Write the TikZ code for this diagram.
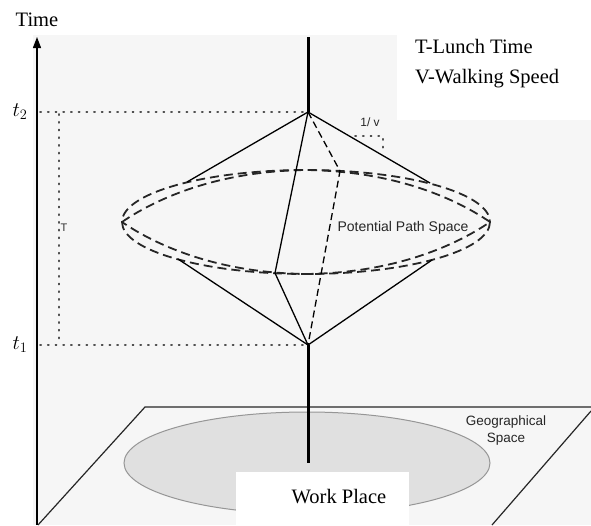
\documentclass[tikz,border=0pt]{standalone}
\usepackage{fontspec}
\setmainfont{Liberation Serif}
\setsansfont{Liberation Sans}
\usetikzlibrary{arrows.meta}
\definecolor{bggray}{RGB}{246,246,246}
\definecolor{geofill}{RGB}{224,224,224}
\definecolor{geoline}{RGB}{150,150,150}
\definecolor{dotcol}{RGB}{80,80,80}
\tikzset{
  serlabel/.style={font=\fontsize{20.5}{24}\selectfont, inner sep=0pt},
  sanslabel/.style={font=\sffamily\fontsize{14}{17}\selectfont, inner sep=0pt, text=black!85},
  coneline/.style={line width=1.3pt, black},
  conedash/.style={line width=1.3pt, black, dash pattern=on 7pt off 4pt},
  elldash/.style={line width=1.8pt, black!85, dash pattern=on 9pt off 5pt},
  dotline/.style={line width=1.6pt, dotcol, dash pattern=on 1.2pt off 6.5pt, line cap=round},
  polestyle/.style={line width=3pt, black},
}
\begin{document}
\begin{tikzpicture}[x=1pt,y=-1pt]
\useasboundingbox (0,0) rectangle (591,525);
% backgrounds
\fill[bggray] (33,35) rectangle (591,525);
\fill[white] (397,0) rectangle (591,120);
% plane
\draw[line width=1.2pt, black!85] (38,525) -- (145,407) -- (591,407);
\draw[line width=1.2pt, black!85] (591,411) -- (492,525);
% geographical ellipse
\draw[fill=geofill, draw=geoline, line width=1pt] (307,463) ellipse [x radius=183, y radius=51];
% work place box
\node[fill=white, minimum width=173pt, minimum height=53pt, inner sep=0pt, anchor=north west] (wpbox) at (236,472) {};
\node[serlabel, anchor=base] (wp) at (339,503) {Work Place};
% time axis
\draw[line width=1.2pt, -{Triangle[length=11pt,width=8pt]}] (37,525) -- (37,37) coordinate (axtop);
\node[serlabel] (time) at (37,20) {Time};
% key points
\coordinate (top) at (308,37);
\coordinate (A2) at (308,112);
\coordinate (A1) at (308,345);
\coordinate (base) at (308,463);
\coordinate (UL) at (187,182);
\coordinate (UR) at (430,183);
\coordinate (LL) at (178,259);
\coordinate (LR) at (432,260);
\coordinate (M) at (275,273);
\coordinate (D) at (340,171);
% dotted guides
\draw[dotline] (40,112) -- (A2);
\draw[dotline] (40,345) -- (A1);
\draw[dotline] (59,114) -- (59,343);
\draw[dotline] (355,136) -- (383,136) -- (383,152);
% labels t
\node[font=\fontsize{20}{24}\selectfont, inner sep=0pt] (t2) at (20,112) {$t_2$};
\node[font=\fontsize{20}{24}\selectfont, inner sep=0pt] (t1) at (20,345) {$t_1$};
\node[font=\sffamily\fontsize{11}{13}\selectfont, inner sep=0pt, text=black!80] (T) at (64,228) {T};
\node[font=\sffamily\fontsize{12}{14}\selectfont, inner sep=0pt, text=black!85] (inv) at (370,122) {1/ v};
% pole
\draw[polestyle] (top) -- (A2);
\draw[polestyle] (A1) -- (base);
% dashed ellipses
\draw[elldash] (306,222) ellipse [x radius=184, y radius=52];
\draw[elldash] (122,222) .. controls (160,196) and (222,171) .. (306,170)
  .. controls (390,171) and (452,196) .. (490,222)
  .. controls (452,248) and (390,273) .. (306,274)
  .. controls (222,273) and (160,248) .. (122,222);
% cone lines
\draw[coneline] (A2) -- (UL);
\draw[coneline] (A2) -- (UR);
\draw[coneline] (LL) -- (A1);
\draw[coneline] (LR) -- (A1);
\draw[coneline] (A2) -- (M) -- (A1);
\draw[conedash] (A2) -- (D) -- (A1);
% texts
\node[sanslabel] (pps) at (403,228) {Potential Path Space};
\node[font=\sffamily\fontsize{13.5}{17}\selectfont, inner sep=0pt, text=black!85, align=center] (geo) at (506,431) {Geographical\\Space};
\node[serlabel, anchor=base west] (lunch) at (415,53) {T-Lunch Time};
\node[serlabel, anchor=base west] (walk) at (415,83) {V-Walking Speed};
\end{tikzpicture}
\end{document}
